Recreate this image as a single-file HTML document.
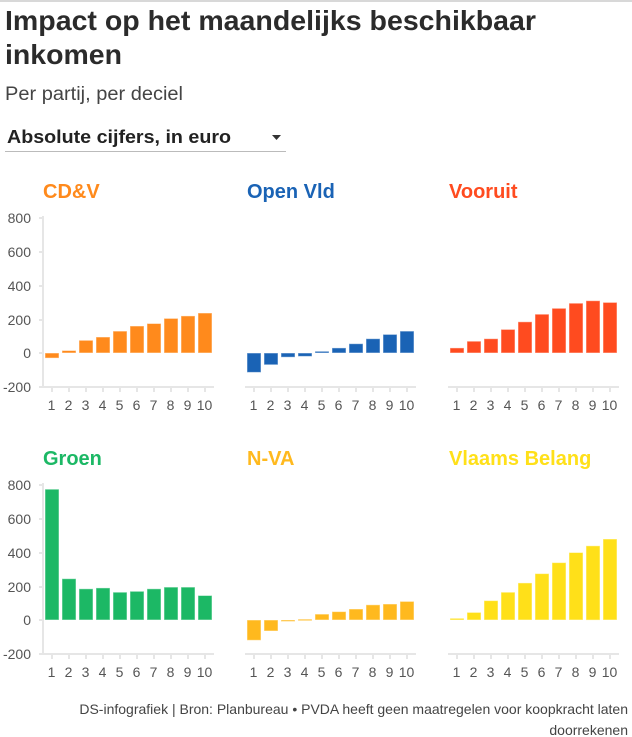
<!DOCTYPE html>
<html><head><meta charset="utf-8"><style>
html,body{margin:0;padding:0;background:#fff;}
svg{display:block;font-family:"Liberation Sans",sans-serif;}
.t{font-size:28px;font-weight:bold;fill:#2b2b2b;}
.yl{font-size:14px;fill:#555;text-anchor:end;}
.xl{font-size:14px;fill:#555;text-anchor:middle;}
.h{font-size:20px;font-weight:bold;}
</style></head><body>
<svg id="s" width="632" height="737" viewBox="0 0 632 737">
<line x1="0" y1="1" x2="632" y2="1" stroke="#ccc" stroke-width="1.5"/>
<text class="t" x="5" y="30" textLength="531" lengthAdjust="spacingAndGlyphs">Impact op het maandelijks beschikbaar</text>
<text class="t" x="5" y="64" textLength="117" lengthAdjust="spacingAndGlyphs">inkomen</text>
<text x="5" y="100" font-size="19" fill="#444" textLength="178" lengthAdjust="spacingAndGlyphs">Per partij, per deciel</text>
<text x="7" y="143" font-size="18" font-weight="bold" fill="#222" textLength="224" lengthAdjust="spacingAndGlyphs">Absolute cijfers, in euro</text>
<polygon points="272,135 281,135 276.5,140" fill="#333"/>
<line x1="5" y1="151.5" x2="286" y2="151.5" stroke="#bbb"/>

<text class="h" x="43" y="198" fill="#ff8a1c">CD&amp;V</text>
<text class="h" x="247" y="198" fill="#1a63b5">Open Vld</text>
<text class="h" x="449" y="198" fill="#ff4b1f">Vooruit</text>
<text class="h" x="43" y="465" fill="#1cb865">Groen</text>
<text class="h" x="247" y="465" fill="#ffb91e">N-VA</text>
<text class="h" x="449" y="465" fill="#ffe019">Vlaams Belang</text>

<g class="yl">
<text x="31" y="223">800</text><text x="31" y="257">600</text><text x="31" y="291">400</text><text x="31" y="325">200</text><text x="31" y="358">0</text><text x="31" y="392">-200</text>
<text x="31" y="490">800</text><text x="31" y="524">600</text><text x="31" y="558">400</text><text x="31" y="592">200</text><text x="31" y="625">0</text><text x="31" y="659">-200</text>
</g>
<g class="xl">
<g transform="translate(0,0)"><text x="51.5" y="410">1</text><text x="68.5" y="410">2</text><text x="85.5" y="410">3</text><text x="102.5" y="410">4</text><text x="119.5" y="410">5</text><text x="136.5" y="410">6</text><text x="153.5" y="410">7</text><text x="170.5" y="410">8</text><text x="187.5" y="410">9</text><text x="204.5" y="410">10</text></g>
<g transform="translate(202,0)"><text x="51.5" y="410">1</text><text x="68.5" y="410">2</text><text x="85.5" y="410">3</text><text x="102.5" y="410">4</text><text x="119.5" y="410">5</text><text x="136.5" y="410">6</text><text x="153.5" y="410">7</text><text x="170.5" y="410">8</text><text x="187.5" y="410">9</text><text x="204.5" y="410">10</text></g>
<g transform="translate(405,0)"><text x="51.5" y="410">1</text><text x="68.5" y="410">2</text><text x="85.5" y="410">3</text><text x="102.5" y="410">4</text><text x="119.5" y="410">5</text><text x="136.5" y="410">6</text><text x="153.5" y="410">7</text><text x="170.5" y="410">8</text><text x="187.5" y="410">9</text><text x="204.5" y="410">10</text></g>
<g transform="translate(0,267)"><text x="51.5" y="410">1</text><text x="68.5" y="410">2</text><text x="85.5" y="410">3</text><text x="102.5" y="410">4</text><text x="119.5" y="410">5</text><text x="136.5" y="410">6</text><text x="153.5" y="410">7</text><text x="170.5" y="410">8</text><text x="187.5" y="410">9</text><text x="204.5" y="410">10</text></g>
<g transform="translate(202,267)"><text x="51.5" y="410">1</text><text x="68.5" y="410">2</text><text x="85.5" y="410">3</text><text x="102.5" y="410">4</text><text x="119.5" y="410">5</text><text x="136.5" y="410">6</text><text x="153.5" y="410">7</text><text x="170.5" y="410">8</text><text x="187.5" y="410">9</text><text x="204.5" y="410">10</text></g>
<g transform="translate(405,267)"><text x="51.5" y="410">1</text><text x="68.5" y="410">2</text><text x="85.5" y="410">3</text><text x="102.5" y="410">4</text><text x="119.5" y="410">5</text><text x="136.5" y="410">6</text><text x="153.5" y="410">7</text><text x="170.5" y="410">8</text><text x="187.5" y="410">9</text><text x="204.5" y="410">10</text></g>
</g>
<text x="628" y="714" font-size="14" fill="#444" text-anchor="end">DS-infografiek | Bron: Planbureau • PVDA heeft geen maatregelen voor koopkracht laten</text>
<text x="628" y="735" font-size="14" fill="#444" text-anchor="end">doorrekenen</text>
<g id="bars"></g>
</svg>
<script>
var data=[
[43,0,'#ff8a1c',[-30,15,75,95,130,160,175,205,220,237],1],
[245,0,'#1a63b5',[-115,-70,-25,-20,10,30,55,85,110,130],0],
[448,0,'#ff4b1f',[30,70,85,140,185,230,265,295,310,300],0],
[43,267,'#1cb865',[775,245,185,190,165,170,185,195,195,145],1],
[245,267,'#ffb91e',[-120,-65,-5,5,35,50,65,90,95,110],0],
[448,267,'#ffe019',[10,45,115,165,220,275,340,400,440,480],0]];
var ns='http://www.w3.org/2000/svg',g=document.getElementById('bars'),out='';
data.forEach(function(d){
 var cx=d[0],oy=d[1],z=353+oy,k=0.16875;
 if(d[4]) out+='<line x1="'+cx+'" y1="'+(216+oy)+'" x2="'+cx+'" y2="'+(388+oy)+'" stroke="#e6e6e6" stroke-width="2"/>'+
  [218,252,286,320,353].map(function(y){return '<line x1="'+(cx-4)+'" y1="'+(y+oy)+'" x2="'+cx+'" y2="'+(y+oy)+'" stroke="#e6e6e6" stroke-width="2"/>';}).join('');
 out+='<line x1="'+(cx-(d[4]?4:0))+'" y1="'+(387+oy)+'" x2="'+(cx+171)+'" y2="'+(387+oy)+'" stroke="#e6e6e6" stroke-width="2"/>';
 d[3].forEach(function(v,i){
  var x=cx+2+17*i,h=Math.abs(v)*k,y=v>=0?z-h:z;
  out+='<rect x="'+x+'" y="'+y.toFixed(1)+'" width="14" height="'+Math.max(h,1.5).toFixed(1)+'" fill="'+d[2]+'" stroke="#fff" stroke-opacity="0.5" stroke-width="1"/>';
  out+='<line x1="'+(x+7)+'" y1="'+(387+oy)+'" x2="'+(x+7)+'" y2="'+(392+oy)+'" stroke="#e6e6e6" stroke-width="2"/>';
 });
});
g.innerHTML=out;
</script>
</body></html>
